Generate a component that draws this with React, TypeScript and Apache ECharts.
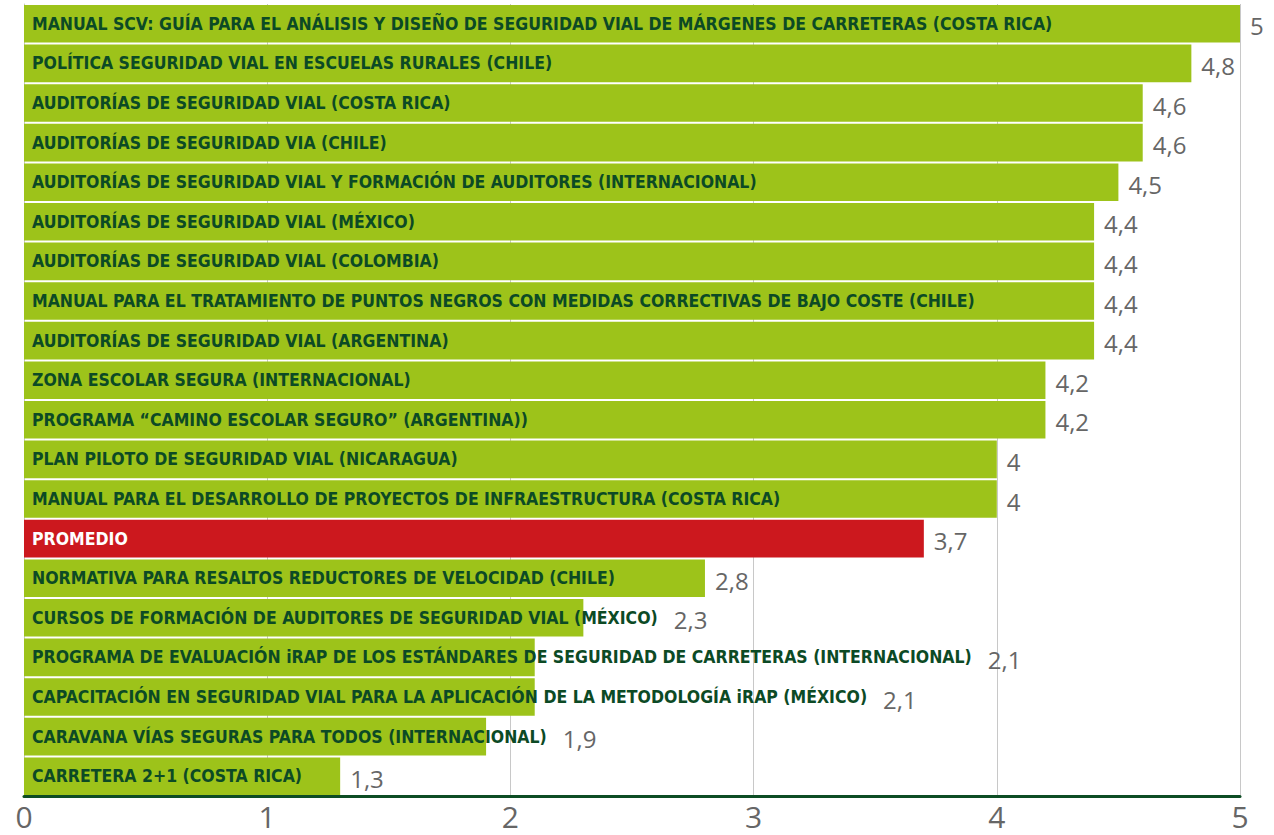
import React, { useEffect, useRef } from "react";
import * as echarts from "echarts";

const categories = [
  "MANUAL SCV: GUÍA PARA EL ANÁLISIS Y DISEÑO DE SEGURIDAD VIAL DE MÁRGENES DE CARRETERAS (COSTA RICA)",
  "POLÍTICA SEGURIDAD VIAL EN ESCUELAS RURALES (CHILE)",
  "AUDITORÍAS DE SEGURIDAD VIAL (COSTA RICA)",
  "AUDITORÍAS DE SEGURIDAD VIA (CHILE)",
  "AUDITORÍAS DE SEGURIDAD VIAL Y FORMACIÓN DE AUDITORES (INTERNACIONAL)",
  "AUDITORÍAS DE SEGURIDAD VIAL (MÉXICO)",
  "AUDITORÍAS DE SEGURIDAD VIAL (COLOMBIA)",
  "MANUAL PARA EL TRATAMIENTO DE PUNTOS NEGROS CON MEDIDAS CORRECTIVAS DE BAJO COSTE (CHILE)",
  "AUDITORÍAS DE SEGURIDAD VIAL (ARGENTINA)",
  "ZONA ESCOLAR SEGURA (INTERNACIONAL)",
  "PROGRAMA “CAMINO ESCOLAR SEGURO” (ARGENTINA))",
  "PLAN PILOTO DE SEGURIDAD VIAL (NICARAGUA)",
  "MANUAL PARA EL DESARROLLO DE PROYECTOS DE INFRAESTRUCTURA (COSTA RICA)",
  "PROMEDIO",
  "NORMATIVA PARA RESALTOS REDUCTORES DE VELOCIDAD (CHILE)",
  "CURSOS DE FORMACIÓN DE AUDITORES DE SEGURIDAD VIAL (MÉXICO)",
  "PROGRAMA DE EVALUACIÓN iRAP DE LOS ESTÁNDARES DE SEGURIDAD DE CARRETERAS (INTERNACIONAL)",
  "CAPACITACIÓN EN SEGURIDAD VIAL PARA LA APLICACIÓN DE LA METODOLOGÍA iRAP (MÉXICO)",
  "CARAVANA VÍAS SEGURAS PARA TODOS (INTERNACIONAL)",
  "CARRETERA 2+1 (COSTA RICA)",
];

const values = [5, 4.8, 4.6, 4.6, 4.5, 4.4, 4.4, 4.4, 4.4, 4.2, 4.2, 4, 4, 3.7, 2.8, 2.3, 2.1, 2.1, 1.9, 1.3];

const tickValues = [0, 1, 2, 3, 4, 5];

const highlight = "PROMEDIO";

const GREEN = "#9dc31a";
const RED = "#cc181e";
const DARK = "#0c4a25";

export default function App() {
  const ref = useRef<HTMLDivElement>(null);
  useEffect(() => {
    document.body.style.margin = "0";
    const chart = echarts.init(ref.current!, null, { renderer: "svg" });
    const condensed = "'DejaVu Sans Condensed', 'Liberation Sans Narrow', sans-serif";
    const catFontSize = 17.5;
    const gridLeft = 24;
    const gridRight = 34;
    const W = 1274;
    const xMin = tickValues[0];
    const xMax = tickValues[tickValues.length - 1];
    const unit = (W - gridLeft - gridRight) / (xMax - xMin);
    const insideDist = 8;
    const valueDist = 10;

    const ctx = document.createElement("canvas").getContext("2d")!;
    ctx.font = `bold ${catFontSize}px ${condensed}`;

    const data = values.map((v, i) => {
      const isAvg = categories[i] === highlight;
      return {
        value: v,
        itemStyle: { color: isAvg ? RED : GREEN },
        label: {
          show: true,
          position: "insideLeft",
          distance: insideDist,
          formatter: categories[i],
          color: isAvg ? "#ffffff" : DARK,
          fontFamily: condensed,
          fontWeight: "bold",
          fontSize: catFontSize,
        },
      };
    });

    const valueData = values.map((v, i) => {
      const textEnd = insideDist + ctx.measureText(categories[i]).width + 16;
      const barEnd = (v - xMin) * unit + valueDist;
      const extra = Math.max(0, textEnd - barEnd);
      return {
        value: v,
        label: { offset: [extra, 2] },
      };
    });

    chart.setOption({
      animation: false,
      backgroundColor: "#ffffff",
      grid: { left: gridLeft, right: gridRight, top: 4, bottom: 39 },
      xAxis: {
        type: "value",
        min: xMin,
        max: xMax,
        interval: 1,
        axisLine: { show: true, lineStyle: { color: "#0d4d24", width: 3 } },
        axisTick: { show: false },
        axisLabel: {
          color: "#666666",
          fontSize: 30,
          fontFamily: "'Open Sans', sans-serif",
          margin: 5,
        },
        splitLine: { show: true, lineStyle: { color: "#c8c8c8", width: 1 } },
      },
      yAxis: {
        type: "category",
        data: categories,
        inverse: true,
        axisLine: { show: true, lineStyle: { color: "#c8c8c8", width: 1 } },
        axisTick: { show: false },
        axisLabel: { show: false },
        splitLine: { show: false },
      },
      series: [
        {
          type: "bar",
          data,
          barCategoryGap: "5%",
          silent: true,
          z: 2,
        },
        {
          type: "bar",
          data: valueData,
          barGap: "-100%",
          barCategoryGap: "5%",
          itemStyle: { color: "transparent" },
          silent: true,
          z: 3,
          label: {
            show: true,
            position: "right",
            distance: valueDist,
            color: "#666666",
            fontSize: 24,
            fontFamily: "'Open Sans', sans-serif",
            formatter: (p: any) => String(p.value).replace(".", ","),
          },
        },
      ],
    });
    return () => chart.dispose();
  }, []);
  return <div ref={ref} style={{ width: 1274, height: 835 }} />;
}
